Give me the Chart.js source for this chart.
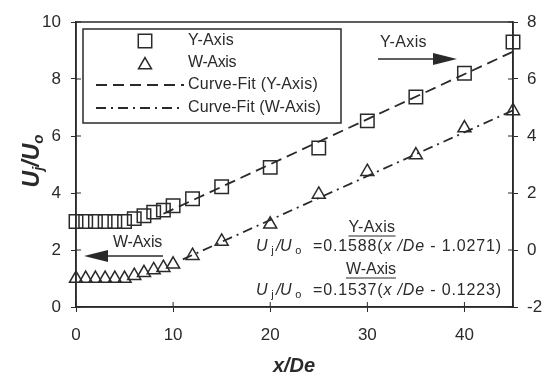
<!DOCTYPE html>
<html>
<head>
<meta charset="utf-8">
<script src="https://cdn.jsdelivr.net/npm/chart.js@4/dist/chart.umd.min.js"></script>
<style>
html,body{margin:0;padding:0;background:#fff;}
#wrap{position:relative;width:553px;height:382px;}
</style>
</head>
<body>
<div id="wrap"><canvas id="c" width="553" height="382"></canvas></div>
<script>
// ---- data ----
const xPosY = [0,1,2,3,4,5,6,7,8,9,10,12,15,20,25,30,35,40,45];
// Y-Axis data (read on the right-hand axis)
const yAxisData = [1.0,1.0,1.0,1.0,1.0,1.0,1.1,1.2,1.33,1.4,1.55,1.8,2.22,2.9,3.58,4.53,5.37,6.2,7.3];
const xPosW = [0,1,2,3,4,5,6,7,8,9,10,12,15,20,25,30,35,40,45];
// W-Axis data (read on the left-hand axis)
const wAxisData = [1.0,1.0,1.0,1.0,1.0,1.0,1.1,1.2,1.3,1.38,1.5,1.8,2.3,2.9,3.95,4.75,5.33,6.28,6.88];
// curve-fit end points
const fitYx = [9,45];
const fitYv = [1.27,6.96];   // right axis
const fitWx = [11,45];
const fitWv = [1.67,6.90];   // left axis
const xTicks = [0,10,20,30,40];
const leftTicks = [0,2,4,6,8,10];
const rightTicks = [-2,0,2,4,6,8];
const legendLabels = ['Y-Axis','W-Axis','Curve-Fit (Y-Axis)','Curve-Fit (W-Axis)'];

const pts = (xs, ys) => xs.map((x,i)=>({x:x,y:ys[i]}));
const FONT = '"Liberation Sans", Arial, sans-serif';
const INK = '#2a2a2a';

function fitText(ctx, t, x, y, w, align){
  ctx.letterSpacing = '0px';
  const m = ctx.measureText(t).width;
  const ls = (w - m) / t.length;
  ctx.letterSpacing = ls.toFixed(2) + 'px';
  let sx = x;
  if (align === 'center') sx = x - w/2;
  else if (align === 'right') sx = x - w;
  ctx.textAlign = 'left';
  ctx.fillText(t, sx, y);
  ctx.letterSpacing = '0px';
}

const decor = {
  id:'decor',
  afterDraw(chart){
    const ctx = chart.ctx, a = chart.chartArea;
    const sx = chart.scales.x, sy = chart.scales.y, sy2 = chart.scales.y2;
    ctx.save();
    ctx.strokeStyle = INK; ctx.lineWidth = 1.5;
    ctx.strokeRect(a.left, a.top, a.right-a.left, a.bottom-a.top);
    // inner tick halves
    ctx.lineWidth = 1;
    ctx.beginPath();
    xTicks.forEach(v=>{const p=sx.getPixelForValue(v); ctx.moveTo(p,a.bottom); ctx.lineTo(p,a.bottom-5);});
    leftTicks.forEach(v=>{const p=sy.getPixelForValue(v); ctx.moveTo(a.left,p); ctx.lineTo(a.left+5,p);});
    rightTicks.forEach(v=>{const p=sy2.getPixelForValue(v); ctx.moveTo(a.right,p); ctx.lineTo(a.right-5,p);});
    ctx.stroke();

    // legend box
    ctx.lineWidth = 1.5;
    ctx.strokeRect(83, 29, 258, 94);
    const ds = chart.data.datasets;
    ctx.textBaseline='middle';
    const rows = [41,63,85,108];
    ctx.fillStyle = 'rgba(0,0,0,0)';
    Chart.helpers.drawPoint(ctx, {pointStyle:'rect', radius:9.5, borderWidth:1.5}, 145, rows[0]);
    Chart.helpers.drawPoint(ctx, {pointStyle:'triangle', radius:7.5, borderWidth:1.5}, 145, rows[1]+2);
    ctx.fillStyle = INK;
    ctx.lineWidth = 1.8;
    ctx.setLineDash(ds[2].borderDash);
    ctx.beginPath(); ctx.moveTo(96,rows[2]); ctx.lineTo(184,rows[2]); ctx.stroke();
    ctx.setLineDash(ds[3].borderDash);
    ctx.beginPath(); ctx.moveTo(96,rows[3]); ctx.lineTo(184,rows[3]); ctx.stroke();
    ctx.setLineDash([]);
    ctx.font = '16px ' + FONT;
    const legW = [46,48,130,133];
    legendLabels.forEach((t,i)=>fitText(ctx, t, 188, rows[i], legW[i], 'left'));

    // Y-Axis arrow
    ctx.lineWidth = 1.5;
    fitText(ctx, 'Y-Axis', 380, 43, 47, 'left');
    ctx.beginPath(); ctx.moveTo(378,59); ctx.lineTo(436,59); ctx.stroke();
    ctx.beginPath(); ctx.moveTo(457,59); ctx.lineTo(433,53); ctx.lineTo(433,65); ctx.closePath(); ctx.fill();
    // W-Axis arrow
    fitText(ctx, 'W-Axis', 113, 243, 49, 'left');
    ctx.beginPath(); ctx.moveTo(163,256); ctx.lineTo(104,256); ctx.stroke();
    ctx.beginPath(); ctx.moveTo(84,256); ctx.lineTo(108,250); ctx.lineTo(108,262); ctx.closePath(); ctx.fill();

    // equations
    function underlined(t, cx, cy, w){
      fitText(ctx, t, cx, cy, w, 'center');
      ctx.lineWidth=1.2; ctx.beginPath(); ctx.moveTo(cx-w/2, cy+8); ctx.lineTo(cx+w/2, cy+8); ctx.stroke();
    }
    function equation(parts, startX, endX, cy){
      let total=0, chars=0;
      ctx.letterSpacing='0px';
      parts.forEach(p=>{ctx.font=p[1]; total+=ctx.measureText(p[0]).width; chars+=p[0].length;});
      const ls = ((endX-startX) - total) / chars;
      let x = startX;
      ctx.textAlign='left';
      parts.forEach(p=>{
        ctx.font=p[1];
        ctx.letterSpacing='0px';
        const w = ctx.measureText(p[0]).width + ls*p[0].length;
        ctx.letterSpacing=ls.toFixed(2)+'px';
        ctx.fillText(p[0], x, cy+(p[2]||0));
        x += w;
      });
      ctx.letterSpacing='0px';
    }
    const n='16px '+FONT, it='italic 16px '+FONT, sb='11px '+FONT;
    ctx.font = n;
    underlined('Y-Axis', 372, 228, 47);
    equation([['U ',it],['j ',sb,4],['/U ',it],['o',sb,4]], 256, 301, 247);
    equation([['=0.1588(',n],['x ',it],['/De',it],[' - 1.0271)',n]], 313, 502, 247);
    ctx.font = n;
    underlined('W-Axis', 371, 270, 50);
    equation([['U ',it],['j ',sb,4],['/U ',it],['o',sb,4]], 256, 301, 291);
    equation([['=0.1537(',n],['x ',it],['/De',it],[' - 0.1223)',n]], 313, 502, 291);

    // axis titles
    ctx.font='bold italic 20px '+FONT; ctx.textAlign='center';
    ctx.fillText('x/De', 294, 366);
    ctx.save();
    ctx.translate(33,161); ctx.rotate(-Math.PI/2);
    const segs=[['U','bold italic 23px '+FONT,0],['j','bold italic 15px '+FONT,6],['/U','bold italic 23px '+FONT,0],['o','bold italic 15px '+FONT,6]];
    let tw=0; segs.forEach(s=>{ctx.font=s[1]; tw+=ctx.measureText(s[0]).width;});
    let xx=-tw/2; ctx.textAlign='left';
    segs.forEach(s=>{ctx.font=s[1]; ctx.fillText(s[0], xx, s[2]); xx+=ctx.measureText(s[0]).width;});
    ctx.restore();
    ctx.restore();
  }
};

const tickFont = {family: FONT, size: 17};
new Chart(document.getElementById('c'), {
  type:'scatter',
  data:{datasets:[
    {label:'Y-Axis', data:pts(xPosY,yAxisData), yAxisID:'y2', pointStyle:'rect', pointRadius:9.5, borderColor:INK, backgroundColor:'rgba(0,0,0,0)', pointBorderWidth:1.5, showLine:false, clip:false},
    {label:'W-Axis', data:pts(xPosW,wAxisData), yAxisID:'y', pointStyle:'triangle', pointRadius:7.5, borderColor:INK, backgroundColor:'rgba(0,0,0,0)', pointBorderWidth:1.5, showLine:false, clip:false},
    {label:'Curve-Fit (Y-Axis)', data:pts(fitYx,fitYv), yAxisID:'y2', showLine:true, pointRadius:0, borderColor:INK, borderWidth:1.8, borderDash:[11,6]},
    {label:'Curve-Fit (W-Axis)', data:pts(fitWx,fitWv), yAxisID:'y', showLine:true, pointRadius:0, borderColor:INK, borderWidth:1.8, borderDash:[10,5,2,5]}
  ]},
  options:{
    responsive:false, animation:false, devicePixelRatio:1,
    layout:{padding:{top:22,left:0,right:0,bottom:0}},
    plugins:{legend:{display:false}, tooltip:{enabled:false}},
    scales:{
      x:{type:'linear', min:0, max:45, position:'bottom',
        afterBuildTicks:s=>{s.ticks=xTicks.map(v=>({value:v}));},
        afterFit:s=>{s.height=75;},
        grid:{drawOnChartArea:false, tickLength:5, color:INK},
        border:{color:INK, width:1.5},
        ticks:{font:tickFont, color:INK, padding:13, maxRotation:0}},
      y:{type:'linear', min:0, max:10, position:'left',
        afterBuildTicks:s=>{s.ticks=leftTicks.map(v=>({value:v}));},
        afterFit:s=>{s.width=76;},
        grid:{drawOnChartArea:false, tickLength:5, color:INK},
        border:{color:INK, width:1.5},
        ticks:{font:tickFont, color:INK, padding:10}},
      y2:{type:'linear', min:-2, max:8, position:'right',
        afterBuildTicks:s=>{s.ticks=rightTicks.map(v=>({value:v}));},
        afterFit:s=>{s.width=40;},
        grid:{drawOnChartArea:false, tickLength:5, color:INK},
        border:{color:INK, width:1.5},
        ticks:{font:tickFont, color:INK, padding:9}}
    }
  },
  plugins:[decor]
});
</script>
</body>
</html>
